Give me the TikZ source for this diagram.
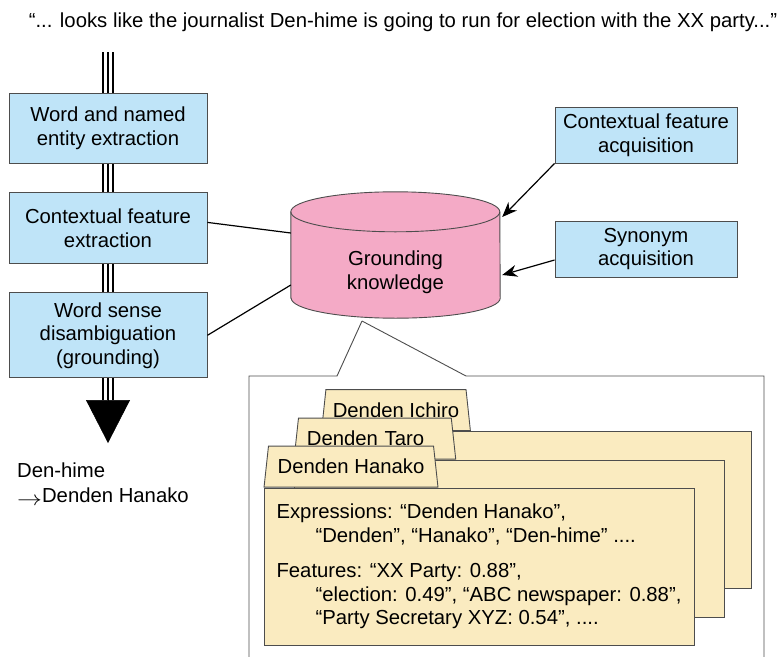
\documentclass[tikz,border=0pt]{standalone}
\usepackage{fontspec}
\setmainfont{Liberation Sans}
\usetikzlibrary{arrows.meta,positioning,shapes.geometric,backgrounds}
\definecolor{boxblue}{HTML}{BFE4F8}
\definecolor{dbpink}{HTML}{F4AAC6}
\definecolor{cardtan}{HTML}{FAEBC0}
\definecolor{edgegray}{HTML}{4D4D4D}
\tikzset{
  stepbox/.style={draw=edgegray, fill=boxblue, line width=0.9pt, align=center,
    inner sep=0pt, minimum width=198pt},
  acqbox/.style={stepbox, minimum width=182pt, minimum height=56pt},
  pipe/.style={draw, line width=11.5pt, postaction={draw=white, line width=8.5pt},
    postaction={draw=black, line width=1.3pt}},
  link/.style={line width=1.2pt},
  feedarrow/.style={-{Stealth[length=15pt,width=12pt]}, line width=1.2pt},
  frame/.style={draw=edgegray, line width=0.9pt},
  card/.style={draw=edgegray, fill=cardtan, line width=0.9pt, minimum width=430pt,
    minimum height=157pt, inner sep=0pt},
  tab/.style={trapezium, trapezium left angle=75, trapezium right angle=75,
    trapezium stretches=true, draw=edgegray, fill=cardtan, line width=0.9pt,
    minimum height=41pt, inner xsep=1pt, inner ysep=0pt, anchor=bottom left corner},
}

\begin{document}
\begin{tikzpicture}[x=1pt, y=-1pt, font=\fontsize{20.3pt}{23.5pt}\selectfont]
\useasboundingbox (0,0) rectangle (781,656);

% Input sentence.
\node (quote) at (403,22) {“... looks like the journalist Den-hime is going to run for election with the XX party...”};
\coordinate (feed) at (108,52);

% Processing steps.
\node[stepbox, minimum height=70pt] (extract) at (108,128) {Word and named\\entity extraction};
\node[stepbox, minimum height=71pt, below=29pt of extract] (context) {Contextual feature\\extraction};
\node[stepbox, minimum height=85pt, below=28pt of context, align=center] (wsd) {Word sense\\disambiguation\\(grounding)};
\coordinate (stem) at (108,400);
\coordinate (tip) at (108,443);
\node[anchor=west, align=left, inner sep=0pt, font=\fontsize{20.3pt}{25pt}\selectfont] (result) at (17,484.5)
  {Den-hime\\\raisebox{-3pt}{\scalebox{1.2}[1]{$\rightarrow$}}Denden Hanako};

% Knowledge base.
\node[minimum width=209pt, minimum height=92pt, inner sep=0pt, align=center] (gk) at (395.5,272) {Grounding\\knowledge};
\node[acqbox] (cfa) at (646,135) {Contextual feature\\acquisition};
\node[acqbox] (syn) at (646,249) {Synonym\\acquisition};

\draw[link] ([yshift=6pt]context.east) -- ([yshift=39pt]gk.west);
\draw[link] (wsd.east) -- ([yshift=-13pt]gk.west);
\draw[feedarrow] (cfa.south west) -- ([xshift=2pt, yshift=55pt]gk.east);
\draw[feedarrow] ([yshift=-11pt]syn.west) -- ([xshift=2pt, yshift=-3pt]gk.east);

% Close-up of the entries.
\coordinate (callout) at (362,321);
\draw[frame] (callout) -- (337,376) -- (249,376) -- (249,660);
\draw[frame] (callout) -- (466,376) -- (764,376) -- (764,660);

\node[card] (ichiro) at (536.5,510) {};
\node[tab, minimum width=149pt] (tabichiro) at (ichiro.north west) {Denden Ichiro};
\node[card] (taro) at (509,538.5) {};
\node[tab, minimum width=162pt, text width=136pt, align=left] (tabtaro) at (taro.north west) {Denden Taro};
\node[card, align=left] (hanako) at (479,566.5) {Expressions: “Denden Hanako”,\\
  \hspace*{39pt}“Denden”, “Hanako”, “Den-hime” ....\\[12pt]
  Features: “XX Party: 0.88”,\\
  \hspace*{39pt}“election: 0.49”, “ABC newspaper: 0.88”,\\
  \hspace*{39pt}“Party Secretary XYZ: 0.54”, ....};
\node[tab, minimum width=174pt] (tabhanako) at (hanako.north west) {Denden Hanako};

\begin{scope}[on background layer]
  \filldraw[fill=dbpink, draw=edgegray, line width=0.9pt] ([yshift=20pt]gk.south west)
    -- ([yshift=14pt]gk.north west) arc[start angle=180, end angle=0, x radius=104.5pt, y radius=20pt]
    -- ([yshift=20pt]gk.south east) arc[start angle=0, end angle=-180, x radius=104.5pt, y radius=20pt]
    -- cycle;
  \draw[edgegray, line width=0.9pt] ([yshift=14pt]gk.north west)
    arc[start angle=180, end angle=360, x radius=104.5pt, y radius=20pt];
  \draw[pipe] (feed) -- (extract.north);
  \draw[pipe] (extract.south) -- (context.north);
  \draw[pipe] (context.south) -- (wsd.north);
  \draw[pipe] (wsd.south) -- (stem);
\end{scope}
\draw[-{Triangle[length=43pt,width=44pt]}, line width=0.5pt] (stem) -- (tip);

\end{tikzpicture}
\end{document}
